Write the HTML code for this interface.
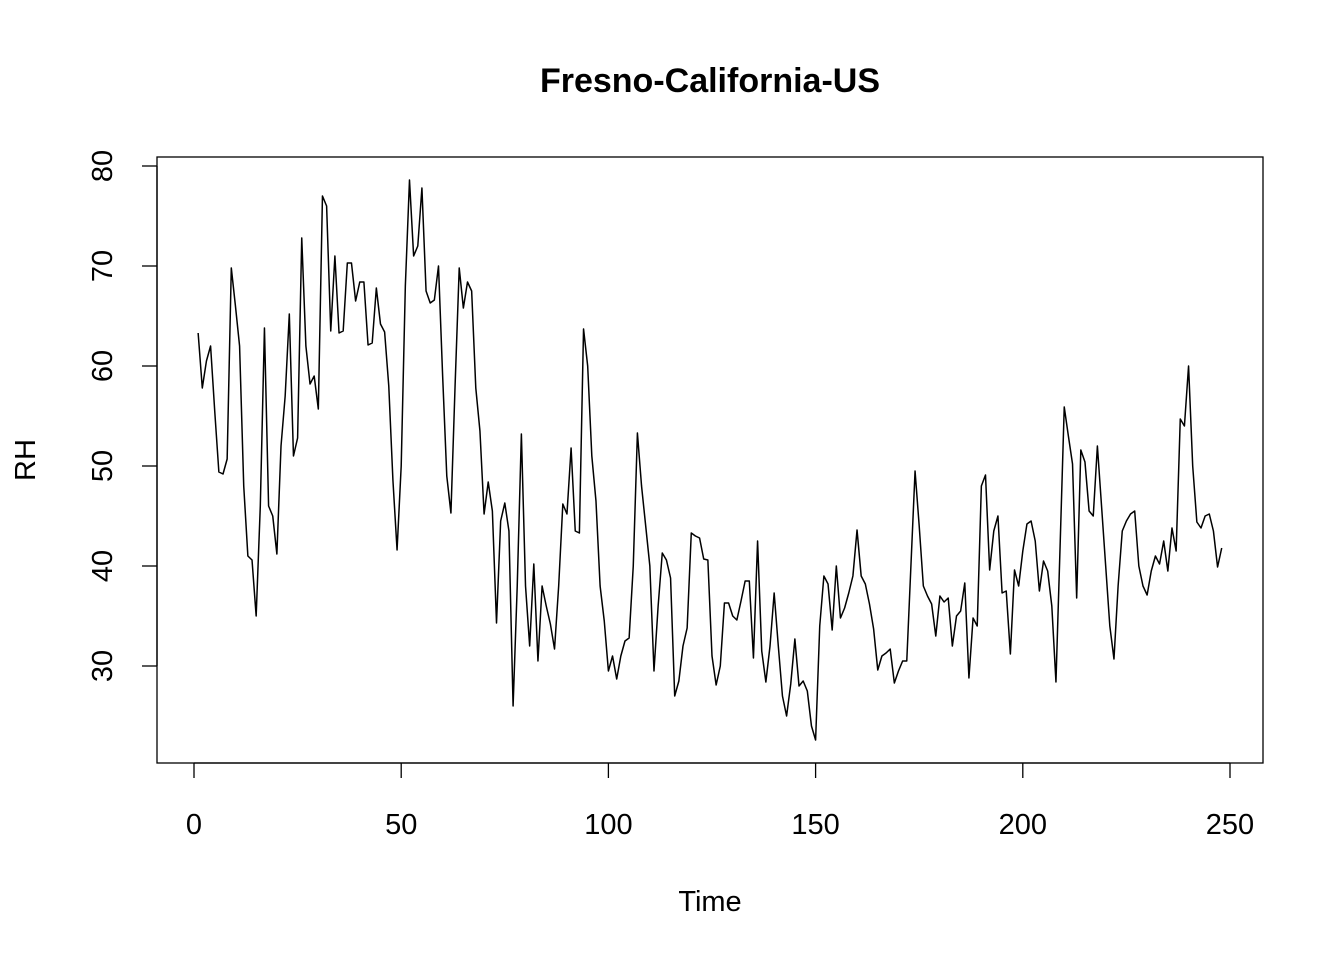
<!DOCTYPE html>
<html><head><meta charset="utf-8"><style>
body{margin:0;background:#fff}
svg text{font-family:"Liberation Sans",sans-serif;fill:#000}
</style></head><body>
<svg width="1344" height="960" xmlns="http://www.w3.org/2000/svg">
<rect width="1344" height="960" fill="#fff"/>
<text x="710" y="92" font-size="34" font-weight="bold" text-anchor="middle">Fresno-California-US</text>
<rect x="157" y="157" width="1106" height="606" fill="none" stroke="#000" stroke-width="1.3"/>
<g id="xaxis"></g>
<g id="yaxis"></g>
<text x="710" y="911" font-size="29" text-anchor="middle">Time</text>
<text transform="translate(35,460) rotate(-90)" font-size="29" text-anchor="middle">RH</text>
<path id="series" fill="none" stroke="#000" stroke-width="1.5" stroke-linejoin="round"/>
</svg>
<script>
const xTicks=[0,50,100,150,200,250];
const yTicks=[30,40,50,60,70,80];
const rh=[63.3,57.8,60.5,62,55.5,49.4,49.2,50.7,69.8,66,62,48,41,40.6,35,46,63.8,46,45,41.2,
52,57,65.2,51,52.8,72.8,62,58.2,59,55.7,77,76,63.5,71,63.3,63.5,70.3,70.3,66.5,68.4,
68.4,62.1,62.3,67.8,64.2,63.4,58,48.6,41.6,50,68,78.6,71,72,77.8,67.5,66.3,66.6,70,59,
49,45.3,58,69.8,65.8,68.4,67.5,57.8,53.5,45.2,48.4,45.5,34.3,44.5,46.3,43.5,26,38,53.2,38,
32,40.2,30.5,38,36,34.2,31.7,38,46.2,45.2,51.8,43.5,43.3,63.7,60,51,46.5,38,34.5,29.5,
31,28.7,31,32.5,32.8,40,53.3,48,44,40,29.5,36,41.3,40.6,38.8,27,28.5,32,33.8,43.3,
43,42.8,40.7,40.6,31,28.1,30,36.3,36.3,35,34.6,36.5,38.5,38.5,30.8,42.5,31.5,28.4,32,37.3,
32,27,25,28.2,32.7,28,28.5,27.5,24,22.6,34,39,38.2,33.6,40,34.8,35.8,37.3,39,43.6,
39,38.2,36.2,33.7,29.6,31,31.3,31.7,28.3,29.5,30.5,30.5,40,49.5,44,38,37,36.2,33,
37,36.4,36.8,32,35,35.5,38.3,28.8,34.8,34,48,49.1,39.6,43.5,45,37.3,37.5,31.2,39.6,38,
41.5,44.2,44.5,42.5,37.5,40.5,39.5,36,28.4,42,55.9,53,50.2,36.8,51.6,50.4,45.5,45,52,46,
40,34,30.7,38,43.5,44.5,45.2,45.5,40,38,37.1,39.5,41,40.2,42.5,39.5,43.8,41.5,54.7,54,
60,50,44.4,43.8,45,45.2,43.5,39.9,41.8];
const xs=t=>194+t*(1230-194)/250;
const ys=v=>966-10*v;
const NS="http://www.w3.org/2000/svg";
const xa=document.getElementById('xaxis'),ya=document.getElementById('yaxis');
function mk(tag,attrs,parent){const e=document.createElementNS(NS,tag);for(const k in attrs)e.setAttribute(k,attrs[k]);parent.appendChild(e);return e;}
mk('line',{x1:xs(xTicks[0]),x2:xs(xTicks[xTicks.length-1]),y1:763,y2:763,stroke:'#000','stroke-width':1.3},xa);
xTicks.forEach(t=>{
  const l=mk('line',{x1:xs(t),x2:xs(t),y1:763,y2:778,stroke:'#000','stroke-width':1.3},xa);
  
  
  const tx=mk('text',{x:xs(t),y:834,'font-size':29,'text-anchor':'middle'},xa);
  tx.textContent=t;
  
  
});
mk('line',{x1:157,x2:157,y1:ys(yTicks[0]),y2:ys(yTicks[yTicks.length-1]),stroke:'#000','stroke-width':1.3},ya);
yTicks.forEach(v=>{
  const l=mk('line',{x1:142,x2:157,y1:ys(v),y2:ys(v),stroke:'#000','stroke-width':1.3},ya);
  
  
  const tx=mk('text',{transform:`translate(112,${ys(v)}) rotate(-90)`,'font-size':29,'text-anchor':'middle'},ya);
  tx.textContent=v;
  
  
});
document.getElementById('series').setAttribute('d',rh.map((v,i)=>(i?'L':'M')+xs(i+1).toFixed(2)+','+ys(v).toFixed(2)).join(''));
</script>
</body></html>
